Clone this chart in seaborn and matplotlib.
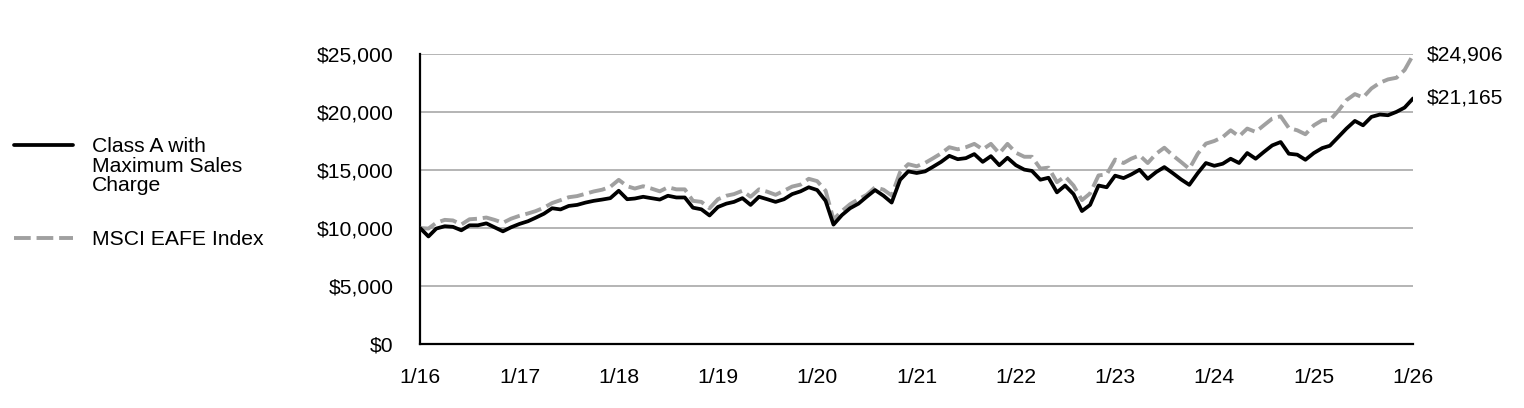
import matplotlib
matplotlib.use("Agg")
import matplotlib.pyplot as plt
from matplotlib.lines import Line2D
import seaborn as sns
import pandas as pd

# Monthly hypothetical growth of $10,000, 1/2016 - 1/2026
dates = pd.date_range("2016-01-01", "2026-01-01", freq="MS")

class_a = [
    10000, 9270, 9950, 10150, 10100, 9800, 10230, 10230, 10400, 10060, 9710, 10060,
    10350, 10580, 10880, 11230, 11700, 11600, 11900, 11990, 12190, 12340, 12450, 12570,
    13210, 12480, 12540, 12690, 12570, 12450, 12780, 12630, 12630, 11750, 11610, 11080,
    11810, 12100, 12250, 12570, 11990, 12690, 12480, 12250, 12480, 12920, 13160, 13510,
    13270, 12340, 10290, 11110, 11700, 12100, 12690, 13270, 12780, 12190, 14150, 14880,
    14740, 14880, 15260, 15700, 16220, 15930, 16020, 16370, 15700, 16190, 15410, 16050,
    15410, 15030, 14920, 14160, 14330, 13070, 13660, 12920, 11460, 11990, 13660, 13510,
    14510, 14300, 14610, 15020, 14240, 14820, 15250, 14730, 14180, 13720, 14730, 15600,
    15360, 15540, 15970, 15600, 16460, 15970, 16550, 17120, 17410, 16400, 16320, 15880,
    16460, 16890, 17090, 17840, 18570, 19230, 18850, 19580, 19780, 19720, 20010, 20380,
    21165,
]

msci_eafe = [
    10000, 9950, 10450, 10700, 10650, 10300, 10750, 10800, 10900, 10700, 10450, 10800,
    11050, 11250, 11450, 11750, 12150, 12400, 12650, 12750, 12950, 13150, 13300, 13550,
    14150, 13600, 13400, 13600, 13400, 13160, 13510, 13330, 13330, 12340, 12250, 11700,
    12480, 12780, 12920, 13210, 12690, 13330, 13130, 12860, 13210, 13570, 13740, 14240,
    14040, 13210, 10730, 11460, 12050, 12480, 12860, 13510, 13300, 12800, 14820, 15500,
    15320, 15610, 15990, 16430, 16960, 16780, 16960, 17250, 16780, 17250, 16430, 17250,
    16490, 16140, 16140, 15120, 15200, 13950, 14450, 13660, 12400, 12980, 14530, 14620,
    15900, 15600, 15970, 16260, 15600, 16400, 16920, 16260, 15680, 15100, 16400, 17270,
    17500, 17840, 18420, 17900, 18570, 18280, 18850, 19430, 19630, 18620, 18420, 18080,
    18850, 19290, 19290, 20100, 21020, 21540, 21250, 22030, 22520, 22810, 22950, 23620,
    24906,
]

series_names = ["Class A with\nMaximum Sales\nCharge", "MSCI EAFE Index"]
y_ticks = [0, 5000, 10000, 15000, 20000, 25000]
tick_years = list(range(2016, 2027))

BLACK = "#000000"
GRAY = "#A0A0A0"

sns.set_style("white")
plt.rcParams["font.family"] = ["Liberation Sans", "DejaVu Sans"]
plt.rcParams["text.color"] = BLACK
plt.rcParams["xtick.color"] = BLACK
plt.rcParams["ytick.color"] = BLACK

df = pd.DataFrame({"date": dates, "class_a": class_a, "msci": msci_eafe})

fig = plt.figure(figsize=(15.24, 4.08), dpi=100)
ax = fig.add_axes([0.2756, 0.1569, 0.6516, 0.7108])

# gridlines first so lines sit on top
for v in y_ticks[1:]:
    ax.axhline(v, color=GRAY, lw=1.1, zorder=1)

sns.lineplot(data=df, x="date", y="msci", ax=ax, color=GRAY, lw=2.8, zorder=3)
ax.lines[-1].set_dashes((4.3, 1.5))
sns.lineplot(data=df, x="date", y="class_a", ax=ax, color=BLACK, lw=2.7, zorder=4)

ax.set_xlim(dates[0], dates[-1])
ax.set_ylim(0, 25000)
ax.set_yticks(y_ticks)
ax.set_yticklabels([f"${v:,.0f}" for v in y_ticks], fontsize=15.2)
xt = [pd.Timestamp(f"{y}-01-01") for y in tick_years]
ax.set_xticks(xt)
ax.set_xticklabels([f"1/{y % 100:02d}" for y in tick_years], fontsize=15.2)
ax.tick_params(axis="y", length=0, pad=19)
ax.tick_params(axis="x", length=0, pad=17)
ax.set_xlabel("")
ax.set_ylabel("")

for side in ["top", "right"]:
    ax.spines[side].set_visible(False)
for side in ["left", "bottom"]:
    ax.spines[side].set_color(BLACK)
    ax.spines[side].set_linewidth(1.6)

# end-value labels
for vals in [msci_eafe, class_a]:
    ax.annotate(f"${vals[-1]:,.0f}", xy=(dates[-1], vals[-1]), xytext=(10, 0),
                textcoords="offset points", va="center", ha="left",
                fontsize=15.2, annotation_clip=False)

# legend on the left
fig.add_artist(Line2D([0.0092, 0.0479], [0.6446, 0.6446], color=BLACK, lw=2.7,
                      transform=fig.transFigure))
fig.text(0.0604, 0.5931, series_names[0], fontsize=15.2, va="center", ha="left",
         linespacing=1.02)
fig.add_artist(Line2D([0.0092, 0.0479], [0.4167, 0.4167], color=GRAY, lw=2.8,
                      dashes=(4.3, 1.5), transform=fig.transFigure))
fig.text(0.0604, 0.4118, series_names[1], fontsize=15.2, va="center", ha="left")

plt.savefig("out.png", dpi=100)
plt.close()
